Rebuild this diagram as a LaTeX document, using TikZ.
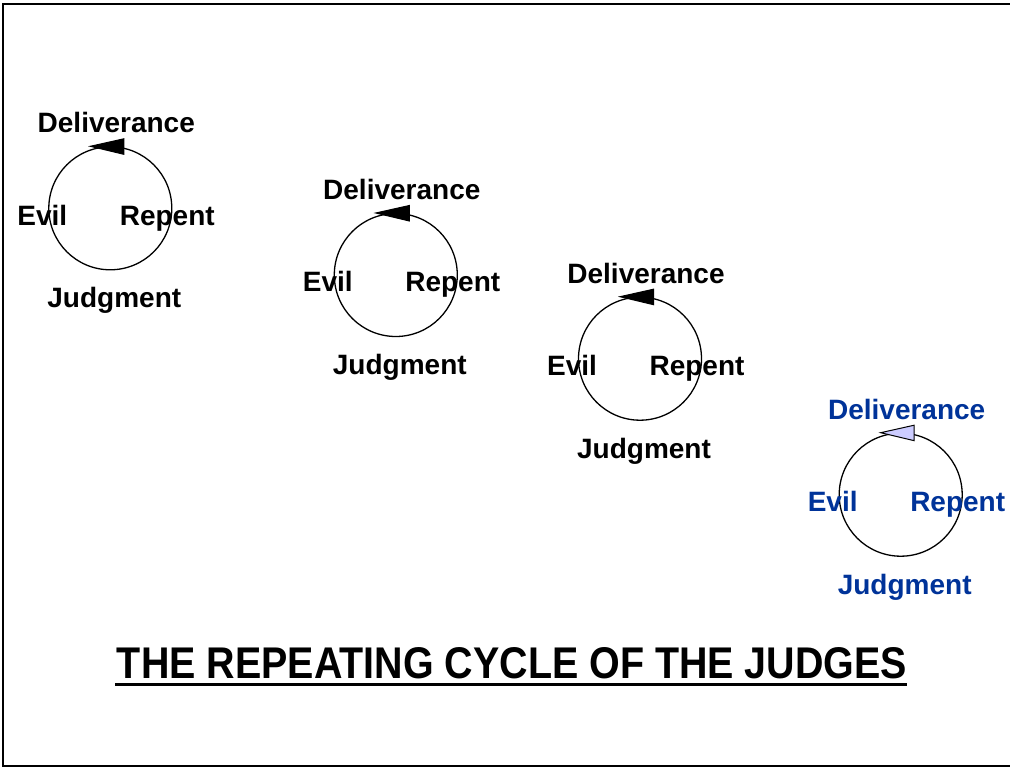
\documentclass[tikz,border=0pt]{standalone}
\usepackage{fontspec}
\setmainfont{Liberation Sans}
\usepackage{graphicx}
\definecolor{cycleblue}{RGB}{0,51,153}
\definecolor{arrowlilac}{RGB}{204,204,255}
\tikzset{
  ring/.style={circle, draw=black, line width=1.3pt, minimum size=123pt, inner sep=0pt},
  cyclelabel/.style={anchor=base, inner sep=0pt, font=\fontsize{28}{32}\selectfont\bfseries},
  headarrow/.style={draw=black, line width=1pt, line join=miter},
}
% #1 name, #2 centre, #3 text colour, #4 arrow fill
\newcommand\judgecycle[4]{%
  \node[ring] (#1) at #2 {};
  \node[cyclelabel, text=#3] (#1-deliv) at ($(#1.center)+(6,-75.5)$) {Deliverance};
  \node[cyclelabel, text=#3] (#1-evil)  at ($(#1.center)+(-68,17)$) {Evil};
  \node[cyclelabel, text=#3] (#1-rep)   at ($(#1.center)+(57,17)$) {Repent};
  \node[cyclelabel, text=#3] (#1-judg)  at ($(#1.center)+(4,99.5)$) {Judgment};
  \filldraw[headarrow, fill=#4]
    ($(#1.center)+(-20,-62)$) -- ($(#1.center)+(13.5,-69.5)$)
    -- ($(#1.center)+(13.5,-54)$) -- cycle;
}
\usetikzlibrary{calc}
\begin{document}
\begin{tikzpicture}[x=1pt, y=-1pt]
  \useasboundingbox (0,0) rectangle (1010,767);
  % slide frame, open on the right
  \draw[line width=2pt] (1010,4) -- (3,4) -- (3,766) -- (1010,766);

  \judgecycle{c1}{(110.3,208.3)}{black}{black}
  \judgecycle{c2}{(395.8,275)}{black}{black}
  \judgecycle{c3}{(640,358.7)}{black}{black}
  \judgecycle{c4}{(900.7,494.7)}{cycleblue}{arrowlilac}

  % title with underline
  \node[anchor=base, inner sep=0pt] (title) at (512,678)
    {\resizebox{790pt}{31pt}{\bfseries THE REPEATING CYCLE OF THE JUDGES}};
  \coordinate (ulL) at (115,684);
  \coordinate (ulR) at (907,684);
  \draw[line width=3pt] (ulL) -- (ulR);
\end{tikzpicture}
\end{document}
